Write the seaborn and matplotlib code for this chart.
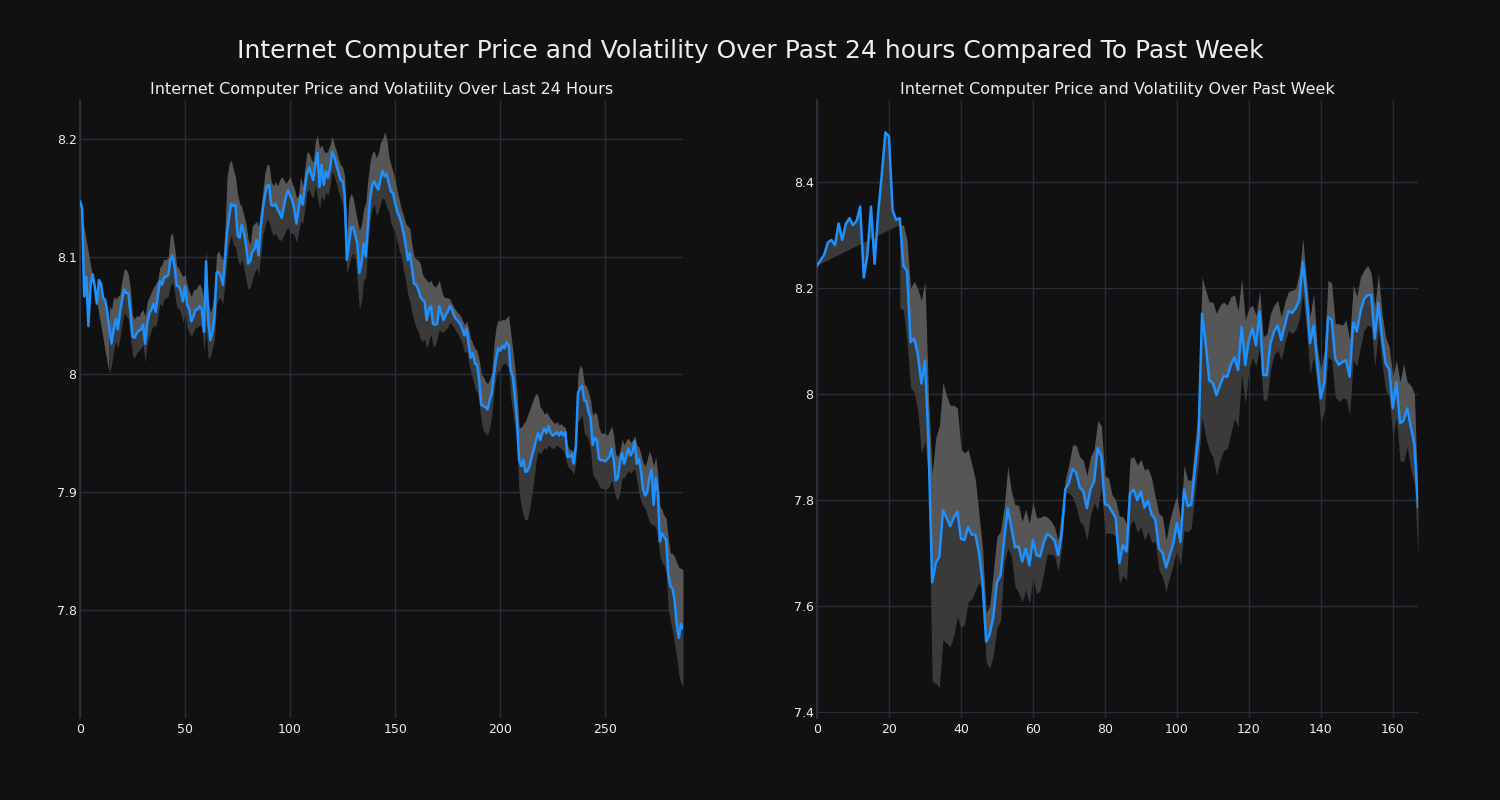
import numpy as np
import matplotlib
matplotlib.use("Agg")
import matplotlib.pyplot as plt
import seaborn as sns
from matplotlib.ticker import FuncFormatter

# ---------------- data ----------------
SUPTITLE = "Internet Computer Price and Volatility Over Past 24 hours Compared To Past Week"
TITLE_DAY = "Internet Computer Price and Volatility Over Last 24 Hours"
TITLE_WEEK = "Internet Computer Price and Volatility Over Past Week"

day_price = [
    8.147, 8.141, 8.066, 8.083, 8.041, 8.075, 8.085, 8.075, 8.060, 8.080,
    8.077, 8.065, 8.063, 8.053, 8.039, 8.026, 8.038, 8.047, 8.038, 8.052,
    8.063, 8.072, 8.069, 8.069, 8.052, 8.032, 8.031, 8.035, 8.037, 8.038,
    8.042, 8.026, 8.043, 8.052, 8.055, 8.060, 8.053, 8.066, 8.079, 8.076,
    8.082, 8.083, 8.084, 8.097, 8.101, 8.092, 8.075, 8.075, 8.070, 8.062,
    8.075, 8.059, 8.055, 8.045, 8.049, 8.055, 8.055, 8.058, 8.055, 8.036,
    8.096, 8.046, 8.029, 8.035, 8.049, 8.086, 8.087, 8.083, 8.076, 8.097,
    8.120, 8.134, 8.145, 8.143, 8.144, 8.118, 8.116, 8.127, 8.121, 8.110,
    8.094, 8.096, 8.104, 8.106, 8.114, 8.101, 8.124, 8.140, 8.152, 8.160,
    8.161, 8.144, 8.143, 8.145, 8.140, 8.137, 8.133, 8.142, 8.151, 8.156,
    8.152, 8.148, 8.140, 8.128, 8.140, 8.152, 8.144, 8.158, 8.170, 8.176,
    8.170, 8.165, 8.178, 8.188, 8.159, 8.178, 8.161, 8.172, 8.167, 8.175,
    8.189, 8.185, 8.178, 8.172, 8.165, 8.164, 8.152, 8.097, 8.110, 8.125,
    8.125, 8.118, 8.111, 8.086, 8.095, 8.111, 8.100, 8.125, 8.148, 8.160,
    8.164, 8.160, 8.157, 8.165, 8.173, 8.168, 8.170, 8.162, 8.155, 8.154,
    8.145, 8.138, 8.134, 8.128, 8.120, 8.110, 8.097, 8.103, 8.090, 8.077,
    8.076, 8.072, 8.066, 8.063, 8.062, 8.046, 8.055, 8.058, 8.043, 8.042,
    8.043, 8.058, 8.052, 8.046, 8.050, 8.053, 8.058, 8.055, 8.050, 8.047,
    8.045, 8.043, 8.038, 8.033, 8.039, 8.025, 8.014, 8.018, 8.009, 8.008,
    7.995, 7.974, 7.973, 7.972, 7.970, 7.978, 7.984, 8.000, 8.012, 8.022,
    8.020, 8.024, 8.022, 8.027, 8.025, 8.003, 7.998, 7.980, 7.960, 7.927,
    7.922, 7.927, 7.917, 7.918, 7.922, 7.930, 7.936, 7.944, 7.950, 7.944,
    7.950, 7.954, 7.950, 7.956, 7.950, 7.948, 7.949, 7.951, 7.948, 7.951,
    7.948, 7.951, 7.930, 7.930, 7.932, 7.924, 7.939, 7.984, 7.988, 7.990,
    7.978, 7.977, 7.968, 7.963, 7.940, 7.946, 7.944, 7.928, 7.927, 7.927,
    7.926, 7.928, 7.930, 7.937, 7.927, 7.910, 7.912, 7.925, 7.933, 7.924,
    7.930, 7.937, 7.931, 7.934, 7.943, 7.924, 7.928, 7.918, 7.902, 7.897,
    7.900, 7.912, 7.919, 7.889, 7.912, 7.900, 7.858, 7.865, 7.862, 7.859,
    7.830, 7.820, 7.818, 7.808, 7.788, 7.776, 7.788, 7.784,
]
day_band_start = 14
day_upper = [
    8.058, 8.055, 8.066, 8.064, 8.066, 8.068,
    8.080, 8.089, 8.089, 8.085, 8.072, 8.050, 8.047, 8.050, 8.049, 8.053,
    8.055, 8.049, 8.062, 8.066, 8.070, 8.074, 8.077, 8.080, 8.091, 8.093,
    8.098, 8.097, 8.100, 8.118, 8.120, 8.108, 8.092, 8.090, 8.086, 8.083,
    8.085, 8.076, 8.070, 8.066, 8.072, 8.072, 8.075, 8.077, 8.072, 8.062,
    8.106, 8.064, 8.052, 8.058, 8.074, 8.102, 8.105, 8.100, 8.097, 8.123,
    8.168, 8.179, 8.182, 8.174, 8.168, 8.153, 8.145, 8.142, 8.135, 8.128,
    8.115, 8.110, 8.126, 8.128, 8.130, 8.126, 8.140, 8.155, 8.171, 8.178,
    8.178, 8.164, 8.160, 8.164, 8.160, 8.165, 8.168, 8.165, 8.162, 8.165,
    8.168, 8.162, 8.158, 8.150, 8.152, 8.168, 8.160, 8.175, 8.189, 8.188,
    8.183, 8.180, 8.198, 8.203, 8.192, 8.195, 8.190, 8.188, 8.190, 8.195,
    8.202, 8.195, 8.190, 8.183, 8.178, 8.176, 8.168, 8.120, 8.148, 8.154,
    8.150, 8.140, 8.131, 8.122, 8.128, 8.140, 8.146, 8.165, 8.180, 8.188,
    8.190, 8.184, 8.188, 8.197, 8.200, 8.206, 8.200, 8.185, 8.178, 8.172,
    8.165, 8.155, 8.148, 8.140, 8.135, 8.128, 8.126, 8.124, 8.110, 8.100,
    8.098, 8.097, 8.094, 8.085, 8.082, 8.080, 8.078, 8.080, 8.076, 8.074,
    8.076, 8.080, 8.072, 8.066, 8.065, 8.065, 8.064, 8.060, 8.057, 8.054,
    8.052, 8.050, 8.046, 8.042, 8.045, 8.038, 8.030, 8.026, 8.022, 8.020,
    8.012, 8.000, 7.998, 7.994, 7.992, 7.996, 8.002, 8.025, 8.040, 8.046,
    8.045, 8.047, 8.046, 8.048, 8.050, 8.035, 8.020, 8.005, 7.985, 7.955,
    7.955, 7.958, 7.960, 7.965, 7.970, 7.975, 7.980, 7.984, 7.982, 7.972,
    7.970, 7.966, 7.968, 7.965, 7.962, 7.960, 7.958, 7.960, 7.957, 7.958,
    7.956, 7.955, 7.940, 7.936, 7.936, 7.934, 7.950, 8.000, 8.008, 8.005,
    7.992, 7.990, 7.985, 7.978, 7.965, 7.968, 7.966, 7.955, 7.950, 7.950,
    7.950, 7.948, 7.952, 7.956, 7.948, 7.932, 7.930, 7.935, 7.945, 7.940,
    7.944, 7.946, 7.942, 7.944, 7.948, 7.940, 7.938, 7.932, 7.925, 7.922,
    7.928, 7.935, 7.930, 7.922, 7.930, 7.915, 7.888, 7.885, 7.880, 7.878,
    7.860, 7.848, 7.848, 7.845, 7.840, 7.836, 7.835, 7.834,
]
day_lower = [
    8.001, 8.008, 8.020, 8.028, 8.022, 8.030,
    8.043, 8.052, 8.050, 8.047, 8.032, 8.016, 8.014, 8.018, 8.020, 8.022,
    8.025, 8.010, 8.027, 8.032, 8.038, 8.042, 8.040, 8.048, 8.060, 8.058,
    8.064, 8.065, 8.066, 8.075, 8.078, 8.070, 8.057, 8.056, 8.052, 8.044,
    8.052, 8.040, 8.035, 8.032, 8.036, 8.040, 8.040, 8.042, 8.040, 8.020,
    8.040, 8.013, 8.015, 8.022, 8.030, 8.060, 8.065, 8.064, 8.060, 8.078,
    8.098, 8.112, 8.118, 8.110, 8.108, 8.098, 8.092, 8.098, 8.090, 8.080,
    8.072, 8.074, 8.080, 8.086, 8.090, 8.085, 8.100, 8.118, 8.125, 8.132,
    8.130, 8.122, 8.118, 8.120, 8.116, 8.114, 8.114, 8.118, 8.122, 8.125,
    8.120, 8.120, 8.118, 8.112, 8.120, 8.130, 8.128, 8.140, 8.155, 8.157,
    8.152, 8.150, 8.160, 8.150, 8.140, 8.152, 8.147, 8.155, 8.152, 8.160,
    8.172, 8.168, 8.162, 8.155, 8.150, 8.145, 8.120, 8.086, 8.092, 8.100,
    8.103, 8.098, 8.078, 8.055, 8.062, 8.080, 8.082, 8.108, 8.130, 8.140,
    8.145, 8.135, 8.138, 8.145, 8.150, 8.148, 8.142, 8.138, 8.128, 8.124,
    8.120, 8.113, 8.105, 8.100, 8.088, 8.080, 8.068, 8.062, 8.052, 8.045,
    8.040, 8.036, 8.030, 8.028, 8.030, 8.022, 8.028, 8.034, 8.024, 8.024,
    8.030, 8.038, 8.036, 8.036, 8.038, 8.040, 8.044, 8.042, 8.040, 8.036,
    8.034, 8.030, 8.026, 8.018, 8.020, 8.010, 8.002, 7.996, 7.988, 7.985,
    7.975, 7.960, 7.952, 7.950, 7.948, 7.955, 7.965, 7.985, 7.998, 8.003,
    8.004, 8.008, 8.010, 8.008, 8.005, 7.980, 7.968, 7.955, 7.935, 7.900,
    7.888, 7.880, 7.876, 7.877, 7.885, 7.897, 7.910, 7.925, 7.935, 7.932,
    7.935, 7.938, 7.936, 7.940, 7.938, 7.937, 7.938, 7.940, 7.938, 7.937,
    7.935, 7.930, 7.922, 7.920, 7.918, 7.915, 7.925, 7.960, 7.962, 7.965,
    7.950, 7.948, 7.945, 7.935, 7.915, 7.912, 7.910, 7.905, 7.903, 7.903,
    7.902, 7.903, 7.905, 7.910, 7.903, 7.895, 7.893, 7.900, 7.912, 7.912,
    7.915, 7.918, 7.916, 7.918, 7.920, 7.910, 7.900, 7.892, 7.888, 7.886,
    7.880, 7.875, 7.872, 7.872, 7.870, 7.860, 7.845, 7.840, 7.838, 7.830,
    7.800, 7.790, 7.782, 7.770, 7.760, 7.745, 7.738, 7.735,
]

week_price = [
    8.242, 8.253, 8.263, 8.286, 8.291, 8.281, 8.322, 8.291, 8.321, 8.332,
    8.319, 8.327, 8.354, 8.220, 8.263, 8.354, 8.246, 8.342, 8.414, 8.494,
    8.486, 8.347, 8.329, 8.332, 8.242, 8.233, 8.098, 8.105, 8.076, 8.020,
    8.063, 7.904, 7.645, 7.681, 7.694, 7.781, 7.767, 7.751, 7.767, 7.778,
    7.727, 7.725, 7.749, 7.735, 7.735, 7.702, 7.645, 7.533, 7.547, 7.580,
    7.645, 7.658, 7.724, 7.785, 7.749, 7.711, 7.713, 7.684, 7.708, 7.677,
    7.725, 7.696, 7.694, 7.720, 7.737, 7.731, 7.724, 7.696, 7.738, 7.821,
    7.832, 7.859, 7.852, 7.824, 7.817, 7.785, 7.821, 7.835, 7.898, 7.883,
    7.792, 7.790, 7.778, 7.767, 7.681, 7.715, 7.703, 7.813, 7.820, 7.800,
    7.816, 7.786, 7.799, 7.772, 7.764, 7.709, 7.701, 7.673, 7.696, 7.718,
    7.757, 7.721, 7.820, 7.789, 7.791, 7.857, 7.919, 8.152, 8.096, 8.026,
    8.021, 7.998, 8.017, 8.034, 8.033, 8.055, 8.070, 8.045, 8.127, 8.055,
    8.102, 8.124, 8.092, 8.155, 8.036, 8.036, 8.096, 8.118, 8.130, 8.102,
    8.130, 8.157, 8.153, 8.162, 8.177, 8.250, 8.184, 8.096, 8.130, 8.058,
    7.992, 8.023, 8.145, 8.141, 8.067, 8.055, 8.061, 8.064, 8.033, 8.135,
    8.118, 8.155, 8.179, 8.187, 8.187, 8.105, 8.172, 8.108, 8.058, 8.047,
    7.973, 8.023, 7.945, 7.950, 7.973, 7.938, 7.904, 7.787,
]
week_band_start = 23
week_upper = [
    8.319, 8.319, 8.290, 8.200, 8.213, 8.199, 8.177,
    8.213, 7.990, 7.850, 7.918, 7.940, 8.022, 7.997, 7.979, 7.979, 7.974,
    7.896, 7.889, 7.895, 7.868, 7.839, 7.774, 7.709, 7.587, 7.601, 7.666,
    7.731, 7.742, 7.788, 7.864, 7.817, 7.792, 7.790, 7.760, 7.783, 7.756,
    7.796, 7.767, 7.767, 7.771, 7.768, 7.761, 7.749, 7.724, 7.781, 7.839,
    7.868, 7.904, 7.904, 7.882, 7.875, 7.846, 7.882, 7.896, 7.950, 7.940,
    7.846, 7.842, 7.810, 7.800, 7.770, 7.769, 7.756, 7.879, 7.882, 7.866,
    7.877, 7.857, 7.860, 7.841, 7.806, 7.775, 7.769, 7.725, 7.762, 7.787,
    7.809, 7.762, 7.866, 7.838, 7.838, 7.907, 7.970, 8.221, 8.196, 8.174,
    8.174, 8.152, 8.168, 8.174, 8.168, 8.184, 8.187, 8.158, 8.218, 8.140,
    8.162, 8.168, 8.149, 8.196, 8.108, 8.114, 8.152, 8.168, 8.177, 8.146,
    8.174, 8.193, 8.196, 8.199, 8.228, 8.294, 8.215, 8.146, 8.190, 8.089,
    8.045, 8.083, 8.215, 8.209, 8.133, 8.133, 8.130, 8.140, 8.102, 8.206,
    8.184, 8.221, 8.234, 8.243, 8.228, 8.165, 8.228, 8.152, 8.108, 8.089,
    8.033, 8.064, 8.023, 8.058, 8.023, 8.017, 8.001, 7.800,
]
week_lower = [
    8.163, 8.159, 8.100, 8.012, 8.004, 7.968, 7.889,
    7.911, 7.840, 7.458, 7.454, 7.447, 7.537, 7.530, 7.523, 7.544, 7.580,
    7.559, 7.566, 7.609, 7.613, 7.630, 7.645, 7.630, 7.494, 7.483, 7.508,
    7.558, 7.573, 7.681, 7.709, 7.695, 7.637, 7.626, 7.608, 7.630, 7.605,
    7.655, 7.623, 7.630, 7.663, 7.698, 7.698, 7.695, 7.666, 7.709, 7.814,
    7.814, 7.806, 7.788, 7.760, 7.753, 7.724, 7.771, 7.796, 7.781, 7.825,
    7.738, 7.738, 7.737, 7.731, 7.643, 7.658, 7.649, 7.756, 7.762, 7.740,
    7.750, 7.725, 7.740, 7.721, 7.721, 7.668, 7.655, 7.627, 7.655, 7.680,
    7.706, 7.677, 7.743, 7.740, 7.747, 7.813, 7.869, 7.957, 7.919, 7.894,
    7.882, 7.847, 7.875, 7.894, 7.897, 7.926, 7.954, 7.938, 8.039, 7.982,
    8.045, 8.070, 8.052, 8.089, 7.989, 7.989, 8.045, 8.074, 8.083, 8.064,
    8.096, 8.121, 8.114, 8.121, 8.140, 8.190, 8.121, 8.039, 8.070, 8.014,
    7.948, 7.967, 8.070, 8.064, 7.995, 7.986, 7.992, 7.992, 7.960, 8.064,
    8.052, 8.089, 8.121, 8.130, 8.127, 8.052, 8.121, 8.058, 8.008, 7.995,
    7.920, 7.957, 7.875, 7.872, 7.901, 7.857, 7.831, 7.693,
]

day_xticks = [0, 50, 100, 150, 200, 250]
day_yticks = [7.8, 7.9, 8.0, 8.1, 8.2]
week_xticks = [0, 20, 40, 60, 80, 100, 120, 140, 160]
week_yticks = [7.4, 7.6, 7.8, 8.0, 8.2, 8.4]

for name, p, s, u, l in [("day", day_price, day_band_start, day_upper, day_lower),
                         ("week", week_price, week_band_start, week_upper, week_lower)]:
    if len(u) != len(p) - s or len(l) != len(p) - s:
        raise ValueError(f"{name}: length mismatch {len(p)} {len(u)} {len(l)}")

# ---------------- style ----------------
BG = "#111111"
GRID = "#282f3a"
LINE = "#1e90ff"
LIGHT = "#565656"
DARK = "#3a3a3a"
TXT = "#eeeeee"

sns.set_theme(style="dark")
plt.rcParams["font.family"] = ["DejaVu Sans"]

fig = plt.figure(figsize=(15, 8), dpi=100, facecolor=BG)
ax1 = fig.add_axes([80 / 1500, 82 / 800, 603 / 1500, 618 / 800])
ax2 = fig.add_axes([817 / 1500, 82 / 800, 601 / 1500, 618 / 800])


def draw(ax, price, start, upper, lower, wedge_band, wedge_color, title,
         xticks, yticks, ylim):
    price = np.asarray(price)
    upper = np.asarray(upper)
    lower = np.asarray(lower)
    x = np.arange(len(price))
    xb = x[start:]
    ax.set_facecolor(BG)
    # volatility band
    ax.fill_between(xb, price[start:], upper, color=LIGHT, lw=0, zorder=2)
    ax.fill_between(xb, lower, price[start:], color=DARK, lw=0, zorder=2)
    band = upper if wedge_band == "upper" else lower
    wx = np.r_[x[:start + 1], x[start]]
    wy = np.r_[price[:start + 1], band[0]]
    ax.fill(wx, wy, color=wedge_color, lw=0, zorder=2)
    # price line
    sns.lineplot(x=x, y=price, ax=ax, color=LINE, linewidth=1.8, zorder=3)
    ax.set_xlim(0, len(price) - 1)
    ax.set_ylim(*ylim)
    ax.set_xticks(xticks)
    ax.set_yticks(yticks)
    ax.yaxis.set_major_formatter(FuncFormatter(lambda v, _: f"{v:g}"))
    ax.grid(True, color=GRID, linewidth=1.0)
    ax.set_axisbelow(True)
    for side in ["top", "right", "bottom"]:
        ax.spines[side].set_visible(False)
    ax.spines["left"].set_visible(True)
    ax.spines["left"].set_color("#2e3642")
    ax.spines["left"].set_linewidth(1.2)
    ax.tick_params(axis="x", colors=TXT, labelsize=9, length=0, pad=3.5)
    ax.tick_params(axis="y", colors=TXT, labelsize=9, length=0, pad=2.5)
    ax.set_xlabel("")
    ax.set_ylabel("")
    ax.set_title(title, color=TXT, fontsize=11.5, pad=4)


draw(ax1, day_price, day_band_start, day_upper, day_lower, "lower", LIGHT,
     TITLE_DAY, day_xticks, day_yticks, (7.708, 8.233))
draw(ax2, week_price, week_band_start, week_upper, week_lower, "upper", DARK,
     TITLE_WEEK, week_xticks, week_yticks, (7.389, 8.555))

fig.suptitle(SUPTITLE, color=TXT, fontsize=18, y=0.951)
fig.savefig("out.png", dpi=100, facecolor=BG)
